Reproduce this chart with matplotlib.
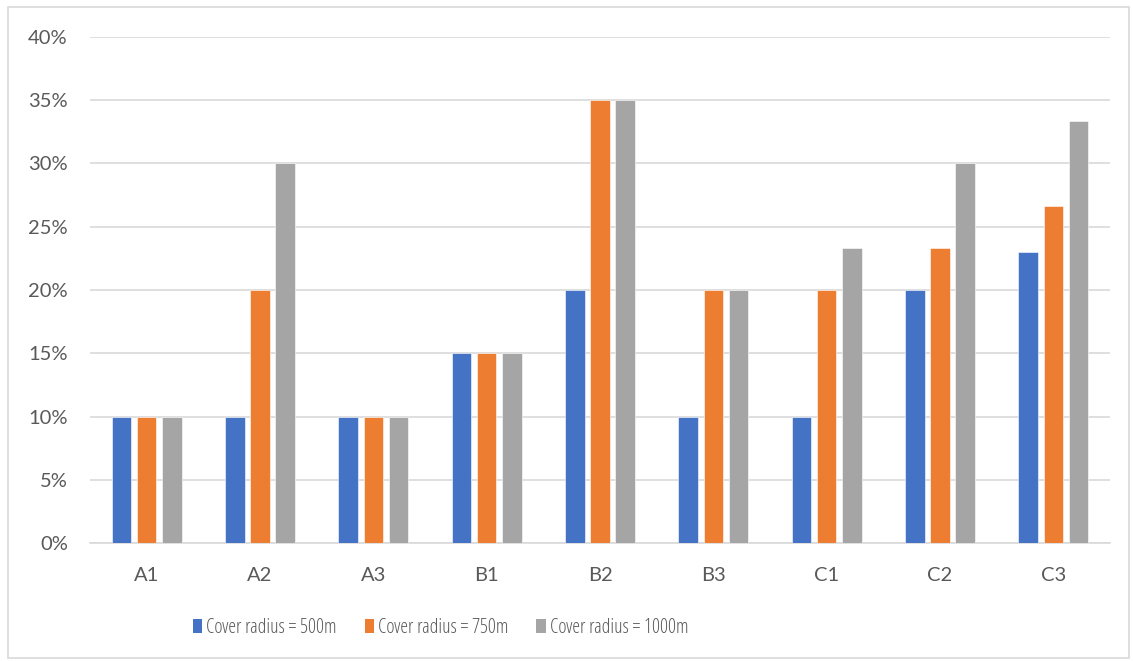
import matplotlib.pyplot as plt
import numpy as np
from matplotlib.patches import Rectangle, Patch
from matplotlib.ticker import FuncFormatter, MultipleLocator

categories = ["A1", "A2", "A3", "B1", "B2", "B3", "C1", "C2", "C3"]
r500 = [10, 10, 10, 15, 20, 10, 10, 20, 23]
r750 = [10, 20, 10, 15, 35, 20, 20, 23.33, 26.67]
r1000 = [10, 30, 10, 15, 35, 20, 23.33, 30, 33.33]
series_labels = ["Cover radius = 500m", "Cover radius = 750m", "Cover radius = 1000m"]
colors = ["#4472C4", "#ED7D31", "#A5A5A5"]

plt.rcParams['font.family'] = ['Lato', 'DejaVu Sans']
text_color = "#595959"

W, H = 1133, 661
fig = plt.figure(figsize=(W / 100, H / 100), dpi=100)
ax = fig.add_axes([90 / W, 1 - 543.3 / H, (1110 - 90) / W, (543.3 - 36.7) / H])

x = np.arange(len(categories))
width = 0.172
step = 0.222
for i, (vals, col, lab) in enumerate(zip([r500, r750, r1000], colors, series_labels)):
    ax.bar(x + (i - 1) * step, vals, width, color=col, label=lab,
           edgecolor="white", linewidth=0.4, zorder=3)

ax.set_xlim(-0.5, len(categories) - 0.5)
ax.set_ylim(0, 40)
ax.yaxis.set_major_locator(MultipleLocator(5))
ax.yaxis.set_major_formatter(FuncFormatter(lambda v, p: f"{v:.0f}%"))
ax.set_xticks(x)
ax.set_xticklabels(categories)
ax.grid(axis="y", color="#D9D9D9", linewidth=1.2, zorder=0)
for s in ["top", "right", "left"]:
    ax.spines[s].set_visible(False)
ax.spines["bottom"].set_color("#D9D9D9")
ax.spines["bottom"].set_linewidth(1.2)
ax.tick_params(axis="both", length=0, labelsize=14.5, labelcolor=text_color)
ax.tick_params(axis="y", pad=16)
ax.tick_params(axis="x", pad=17)

handles = [Patch(facecolor=c, edgecolor="none") for c in colors]
leg = fig.legend(handles, series_labels, loc="center left",
                 bbox_to_anchor=(193 / W, 1 - 628 / H),
                 ncol=3, frameon=False, labelcolor=text_color,
                 prop={'family': ['Open Sans', 'Lato'], 'stretch': 'condensed',
                       'size': 14.2},
                 borderpad=0, borderaxespad=0,
                 handlelength=0.47, handleheight=0.71, handletextpad=0.2,
                 columnspacing=1.42)

fig.patches.append(Rectangle((8 / W, 3 / H), (W - 12) / W, (H - 10) / H,
                             transform=fig.transFigure, fill=False,
                             edgecolor="#D9D9D9", linewidth=1.2))

fig.savefig("out.png", dpi=100, facecolor="white")
